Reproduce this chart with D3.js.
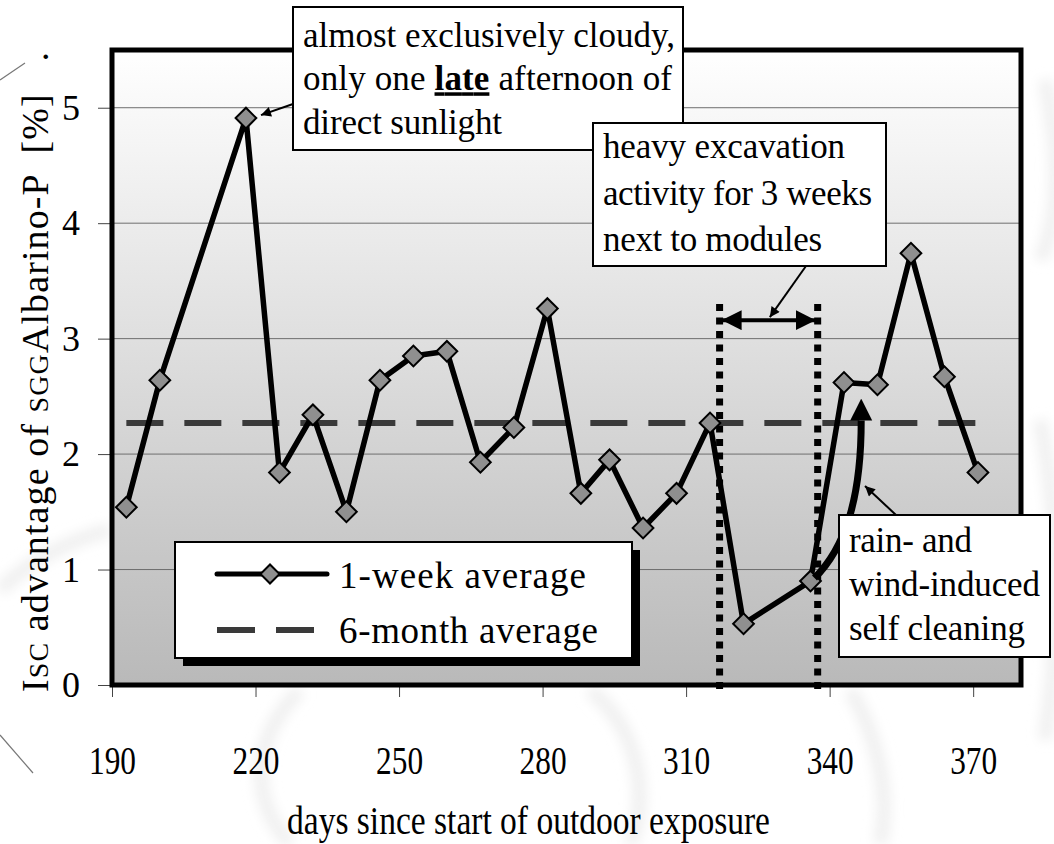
<!DOCTYPE html>
<html lang="en">
<head>
<meta charset="UTF-8">
<title>Isc advantage of sGG Albarino-P</title>
<script src="https://d3js.org/d3.v7.min.js"></script>
<style>
  body { margin: 0; background: #fff; }
  svg text { font-family: "Liberation Serif", "Times New Roman", Times, serif; fill: #000; }
</style>
</head>
<body>
<svg id="chart" width="1054" height="844"></svg>
<script>
// weekly points (day, value in %)
const days = [193, 200, 218, 225, 232, 239, 246, 253, 260, 267, 274, 281,
              288, 294, 301, 308, 315, 322, 336, 343, 350, 357, 364, 371];
const weekAvg = [1.54, 2.64, 4.91, 1.84, 2.34, 1.50, 2.64, 2.85, 2.89, 1.93, 2.23, 3.26,
                 1.66, 1.95, 1.36, 1.66, 2.27, 0.53, 0.90, 2.62, 2.60, 3.74, 2.67, 1.84];
const sixMonthAvg = 2.27;
const seriesNames = ["1-week average", "6-month average"];
const xTicks = [190, 220, 250, 280, 310, 340, 370];
const yTicks = [0, 1, 2, 3, 4, 5];
const excavation = [317, 337.5];   // start / end of the 3 weeks

const note1 = ["almost exclusively cloudy,", "only one |late| afternoon of", "direct sunlight"];
const note2 = ["heavy excavation", "activity for 3 weeks", "next to modules"];
const note3 = ["rain- and", "wind-induced", "self cleaning"];

const svg = d3.select("#chart");
const margin = { top: 50, right: 33, bottom: 159, left: 112 };
const width = 1054 - margin.left - margin.right;
const height = 844 - margin.top - margin.bottom;

const x = d3.scaleLinear().domain([190, 380]).range([0, width]);
const y = d3.scaleLinear().domain([0, 5.5]).range([height, 0]);

const defs = svg.append("defs");
const grad = defs.append("linearGradient").attr("id", "bg")
    .attr("x1", 0).attr("y1", 0).attr("x2", 0).attr("y2", 1);
grad.append("stop").attr("offset", "0%").attr("stop-color", "#ffffff");
grad.append("stop").attr("offset", "100%").attr("stop-color", "#b9b9b9");

defs.append("filter").attr("id", "soft").attr("x", "-20%").attr("y", "-20%")
    .attr("width", "140%").attr("height", "140%")
  .append("feGaussianBlur").attr("stdDeviation", 6);

defs.append("marker").attr("id", "thin")
    .attr("viewBox", "0 0 10 10").attr("refX", 10).attr("refY", 5)
    .attr("markerUnits", "userSpaceOnUse").attr("markerWidth", 13).attr("markerHeight", 10)
    .attr("orient", "auto")
  .append("path").attr("d", "M0,0L10,5L0,10z").attr("fill", "#000");
defs.append("marker").attr("id", "big")
    .attr("viewBox", "0 0 10 10").attr("refX", 10).attr("refY", 5)
    .attr("markerUnits", "userSpaceOnUse").attr("markerWidth", 20).attr("markerHeight", 20)
    .attr("orient", "auto-start-reverse")
  .append("path").attr("d", "M0,0L10,5L0,10z").attr("fill", "#000");
defs.append("marker").attr("id", "curveHead")
    .attr("viewBox", "0 0 10 10").attr("refX", 0).attr("refY", 5)
    .attr("markerUnits", "userSpaceOnUse").attr("markerWidth", 22).attr("markerHeight", 23)
    .attr("orient", "auto")
  .append("path").attr("d", "M0,0L10,5L0,10z").attr("fill", "#000");

// faint watermark swirl behind the chart
const wm = svg.append("g").attr("fill", "none").attr("stroke", "#f0f0f0")
    .attr("stroke-width", 14).attr("filter", "url(#soft)");
wm.append("path").attr("d", "M300,690 C250,740 250,800 290,844");
wm.append("path").attr("d", "M590,690 C640,730 650,800 630,844");
wm.append("path").attr("d", "M850,690 C880,740 890,800 880,844");
wm.append("path").attr("d", "M1045,80 C1060,150 1060,220 1040,260");
wm.append("path").attr("d", "M1040,420 C1060,520 1060,640 1045,740");
wm.append("path").attr("d", "M0,590 C30,560 70,540 110,530");

svg.append("line").attr("x1", 0).attr("y1", 80).attr("x2", 25).attr("y2", 63)
    .attr("stroke", "#777").attr("stroke-width", 1.2);
svg.append("line").attr("x1", 0).attr("y1", 735).attr("x2", 33).attr("y2", 773)
    .attr("stroke", "#777").attr("stroke-width", 1.2);

const g = svg.append("g").attr("transform", `translate(${margin.left},${margin.top})`);

g.append("rect").attr("width", width).attr("height", height).attr("fill", "url(#bg)");

// gridlines
g.selectAll(".grid").data(yTicks.slice(1)).enter().append("line")
    .attr("x1", 0).attr("x2", width)
    .attr("y1", d => y(d)).attr("y2", d => y(d))
    .attr("stroke", "#6e6e6e").attr("stroke-width", 1);

const yAxis = g.append("g")
    .call(d3.axisLeft(y).tickValues(yTicks).tickSize(14).tickPadding(18).tickFormat(d3.format("d")));
const xAxis = g.append("g").attr("transform", `translate(0,${height})`)
    .call(d3.axisBottom(x).tickValues(xTicks).tickSize(12).tickFormat(d3.format("d")));
[xAxis, yAxis].forEach(a => {
  a.select(".domain").remove();
  a.attr("font-size", 36).attr("font-family", null);
  a.selectAll("line").attr("stroke", "#444");
});
xAxis.selectAll("text")
    .attr("y", 89).attr("dy", null)
    .attr("font-size", 40)
    .attr("textLength", 47).attr("lengthAdjust", "spacingAndGlyphs");

// frame
g.append("rect").attr("width", width).attr("height", height)
    .attr("fill", "none").attr("stroke", "#000").attr("stroke-width", 5);

// excavation period
g.selectAll(".exc").data(excavation).enter().append("line")
    .attr("x1", d => x(d)).attr("x2", d => x(d))
    .attr("y1", y(3.3)).attr("y2", height + 7)
    .attr("stroke", "#000").attr("stroke-width", 7).attr("stroke-dasharray", "7,6.5");

// 6-month average
g.append("line")
    .attr("x1", x(days[0])).attr("x2", x(days[days.length - 1]))
    .attr("y1", y(sixMonthAvg)).attr("y2", y(sixMonthAvg))
    .attr("stroke", "#3a3a3a").attr("stroke-width", 6).attr("stroke-dasharray", "37,21");

// 1-week average
const line = d3.line().x((d, i) => x(days[i])).y(d => y(d));
g.append("path").datum(weekAvg).attr("d", line)
    .attr("fill", "none").attr("stroke", "#000").attr("stroke-width", 5.5)
    .attr("stroke-linejoin", "round");

const diamond = d3.symbol().type(d3.symbolSquare).size(215);
g.selectAll(".pt").data(weekAvg).enter().append("path")
    .attr("d", diamond)
    .attr("transform", (d, i) => `translate(${x(days[i])},${y(d)}) rotate(45)`)
    .attr("fill", "#8f8f8f").attr("stroke", "#000").attr("stroke-width", 2);

// double arrow between the dotted lines
g.append("line")
    .attr("x1", x(excavation[0]) + 2).attr("x2", x(excavation[1]) - 2)
    .attr("y1", y(3.16)).attr("y2", y(3.16))
    .attr("stroke", "#000").attr("stroke-width", 4)
    .attr("marker-start", "url(#big)").attr("marker-end", "url(#big)");

// self cleaning curve
const c0 = [x(days[18]) + 4, y(weekAvg[18]) - 3];
const c1 = [x(346.6), y(2.29)];
g.append("path")
    .attr("d", `M${c0[0]},${c0[1]} C${c0[0] + 30},${c0[1] - 30} ${c1[0]},${c1[1] + 80} ${c1[0]},${c1[1]}`)
    .attr("fill", "none").attr("stroke", "#000").attr("stroke-width", 7)
    .attr("marker-end", "url(#curveHead)");

// legend
const lg = svg.append("g").attr("transform", "translate(175,542)");
lg.append("rect").attr("x", 8).attr("y", 8).attr("width", 457).attr("height", 116).attr("fill", "#000");
lg.append("rect").attr("width", 457).attr("height", 116)
    .attr("fill", "#fff").attr("stroke", "#000").attr("stroke-width", 2);
lg.append("line").attr("x1", 42).attr("x2", 152).attr("y1", 32).attr("y2", 32)
    .attr("stroke", "#000").attr("stroke-width", 5).attr("stroke-linecap", "round");
lg.append("path").attr("d", d3.symbol().type(d3.symbolSquare).size(180))
    .attr("transform", "translate(95,32) rotate(45)")
    .attr("fill", "#8f8f8f").attr("stroke", "#000").attr("stroke-width", 2);
lg.append("line").attr("x1", 42).attr("x2", 152).attr("y1", 88).attr("y2", 88)
    .attr("stroke", "#3a3a3a").attr("stroke-width", 6).attr("stroke-dasharray", "38,21");
lg.selectAll(".lt").data(seriesNames).enter().append("text")
    .attr("x", 164).attr("y", (d, i) => 46 + i * 55)
    .attr("font-size", 37)
    .attr("textLength", (d, i) => [247, 259][i]).attr("lengthAdjust", "spacing")
    .text(d => d);

// annotation boxes
function noteBox(lines, bx, by, bw, bh, tx, ty0, step, widths) {
  const b = svg.append("g");
  b.append("rect").attr("x", bx).attr("y", by).attr("width", bw).attr("height", bh)
      .attr("fill", "#fff").attr("stroke", "#000").attr("stroke-width", 2);
  lines.forEach((s, i) => {
    const t = b.append("text").attr("x", tx).attr("y", ty0 + i * step)
        .attr("font-size", 35).attr("textLength", widths[i]).attr("lengthAdjust", "spacing");
    s.split("|").forEach((part, k) => {
      const sp = t.append("tspan").text(part);
      if (k % 2 === 1) sp.attr("font-weight", "bold").attr("text-decoration", "underline");
    });
  });
}

svg.append("line").attr("x1", 293).attr("y1", 104)
    .attr("x2", margin.left + x(days[2]) + 15).attr("y2", margin.top + y(weekAvg[2]) - 3)
    .attr("stroke", "#000").attr("stroke-width", 2).attr("marker-end", "url(#thin)");
noteBox(note1, 293, 7, 390, 143, 303, 47, 43.3, [372, 369, 199]);

svg.append("line").attr("x1", 806).attr("y1", 266)
    .attr("x2", margin.left + x(327.5)).attr("y2", margin.top + y(3.16) - 3)
    .attr("stroke", "#000").attr("stroke-width", 2).attr("marker-end", "url(#thin)");
noteBox(note2, 593, 123, 293, 143, 603, 158, 46.7, [242, 269, 219]);

svg.append("line").attr("x1", 896).attr("y1", 515)
    .attr("x2", 865).attr("y2", 486)
    .attr("stroke", "#000").attr("stroke-width", 2).attr("marker-end", "url(#thin)");
noteBox(note3, 839, 515, 211, 142, 849, 552, 44, [123, 191, 176]);

// axis titles
svg.append("text").attr("x", 287).attr("y", 834)
    .attr("font-size", 39).attr("textLength", 483).attr("lengthAdjust", "spacingAndGlyphs")
    .text("days since start of outdoor exposure");

const yl = svg.append("text")
    .attr("transform", "translate(48,692) rotate(-90)")
    .attr("font-size", 38).attr("textLength", 640).attr("lengthAdjust", "spacing")
    .attr("xml:space", "preserve");
yl.append("tspan").text("I");
yl.append("tspan").attr("font-size", 28).text("SC");
yl.append("tspan").text(" advantage of ");
yl.append("tspan").attr("font-size", 28).text("SGG");
yl.append("tspan").text("Albarino-P  [%]   .");
</script>
</body>
</html>
